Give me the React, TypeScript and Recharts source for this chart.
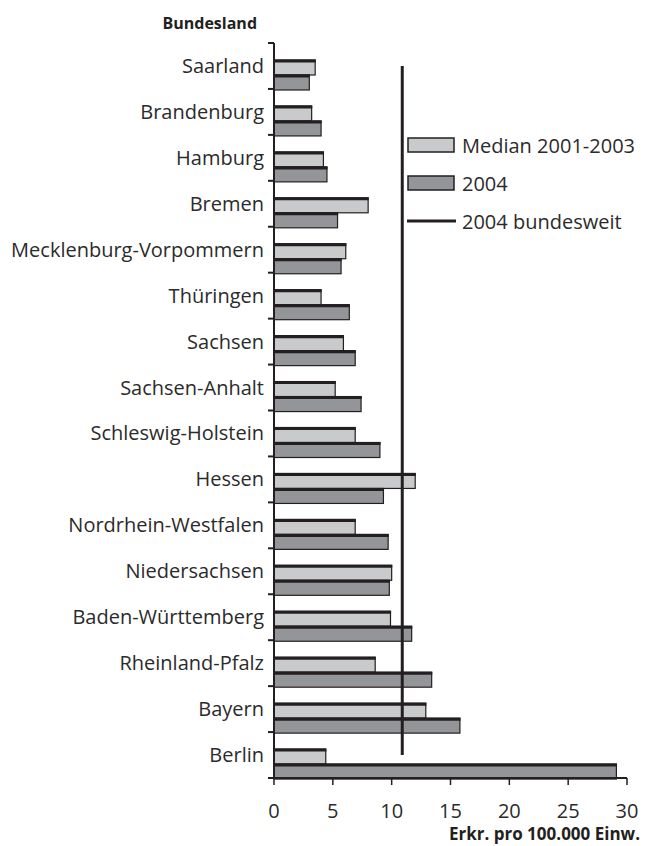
import React from 'react';
import { BarChart, Bar, XAxis, YAxis, ReferenceLine, Legend } from 'recharts';

const states = [
  'Saarland', 'Brandenburg', 'Hamburg', 'Bremen', 'Mecklenburg-Vorpommern', 'Thüringen',
  'Sachsen', 'Sachsen-Anhalt', 'Schleswig-Holstein', 'Hessen', 'Nordrhein-Westfalen',
  'Niedersachsen', 'Baden-Württemberg', 'Rheinland-Pfalz', 'Bayern', 'Berlin',
];
const median0103 = [3.5, 3.2, 4.2, 8.0, 6.1, 4.0, 5.9, 5.2, 6.9, 12.0, 6.9, 10.0, 9.9, 8.6, 12.9, 4.4];
const rate2004 = [3.0, 4.0, 4.5, 5.4, 5.7, 6.4, 6.9, 7.4, 9.0, 9.3, 9.7, 9.8, 11.7, 13.4, 15.8, 29.1];
const bundesweit2004 = 10.9;
const xTicks = [0, 5, 10, 15, 20, 25, 30];
const seriesNames = ['Median 2001-2003', '2004', '2004 bundesweit'];

const data = states.map((s, i) => ({ state: s, median: median0103[i], y2004: rate2004[i] }));

const INK = '#231f20';
const TEXT = '#2b2b2b';
const LIGHT = '#c9cacc';
const DARK = '#939598';
const FONT = '"Open Sans", sans-serif';
const BAR_SHIFT = 9;

const barShape = (fill: string) => (props: any) => {
  const { x, y, width, height } = props;
  const top = y + BAR_SHIFT;
  return (
    <g>
      <rect x={x} y={top} width={width} height={height} fill={fill} stroke={INK} strokeWidth={1.2} />
      <line x1={x} x2={x + width + 0.6} y1={top + 1} y2={top + 1} stroke={INK} strokeWidth={3} />
    </g>
  );
};

const StateTick = (props: any) => {
  const { x, y, payload, index } = props;
  const half = payload.offset ?? 0;
  const axisX = x + 10;
  return (
    <g>
      <text x={x} y={y} dy="0.35em" textAnchor="end" fontFamily={FONT} fontSize={20} fill={TEXT}>
        {payload.value}
      </text>
      <line x1={axisX - 6} x2={axisX} y1={y + half} y2={y + half} stroke={INK} strokeWidth={2} />
      {index === 0 && (
        <line x1={axisX - 6} x2={axisX} y1={y - half} y2={y - half} stroke={INK} strokeWidth={2} />
      )}
    </g>
  );
};

const renderLegend = () => (
  <div style={{ fontFamily: FONT, fontSize: 20, color: TEXT }}>
    {[LIGHT, DARK].map((c, i) => (
      <div key={i} style={{ display: 'flex', alignItems: 'center', height: 38 }}>
        <svg width={55} height={16}>
          <rect x={1} y={1} width={46} height={14} fill={c} stroke={INK} strokeWidth={1.5} />
        </svg>
        <span>{seriesNames[i]}</span>
      </div>
    ))}
    <div style={{ display: 'flex', alignItems: 'center', height: 38 }}>
      <svg width={55} height={16}>
        <line x1={0} x2={49} y1={8} y2={8} stroke={INK} strokeWidth={3} />
      </svg>
      <span>{seriesNames[2]}</span>
    </div>
  </div>
);

export default function App() {
  return (
    <div style={{ position: 'absolute', left: 0, top: 0, width: 652, height: 846, background: '#fff' }}>
      <BarChart
        width={652}
        height={846}
        data={data}
        layout="vertical"
        margin={{ top: 43, right: 25, bottom: 0, left: 0 }}
        barSize={15}
        barGap={0}
      >
        <XAxis
          type="number"
          domain={[0, 30]}
          ticks={xTicks}
          height={68}
          axisLine={{ stroke: INK, strokeWidth: 2 }}
          tickLine={{ stroke: INK, strokeWidth: 1.5 }}
          tickSize={7}
          tickMargin={19}
          tick={{ fontFamily: FONT, fontSize: 20, fill: TEXT }}
          label={{
            content: (p: any) => (
              <text
                x={p.viewBox.x + p.viewBox.width + 13}
                y={p.viewBox.y + 62}
                textAnchor="end"
                fontFamily={FONT}
                fontWeight="bold"
                fontSize={17}
                fill={INK}
              >
                Erkr. pro 100.000 Einw.
              </text>
            ),
          }}
        />
        <YAxis
          type="category"
          dataKey="state"
          width={274}
          axisLine={{ stroke: INK, strokeWidth: 2 }}
          tickLine={false}
          tickSize={0}
          tickMargin={10}
          interval={0}
          tick={<StateTick />}
          label={{
            content: (p: any) => (
              <text
                x={p.viewBox.x + p.viewBox.width - 17}
                y={p.viewBox.y - 14}
                textAnchor="end"
                fontFamily={FONT}
                fontWeight="bold"
                fontSize={16}
                fill={INK}
              >
                Bundesland
              </text>
            ),
          }}
        />
        <Bar dataKey="median" name={seriesNames[0]} fill={LIGHT} shape={barShape(LIGHT)} isAnimationActive={false} />
        <Bar dataKey="y2004" name={seriesNames[1]} fill={DARK} shape={barShape(DARK)} isAnimationActive={false} />
        <ReferenceLine
          segment={[{ x: bundesweit2004, y: states[0] }, { x: bundesweit2004, y: states[states.length - 1] }]}
          stroke={INK}
          strokeWidth={3}
        />
        <Legend
          layout="vertical"
          align="center"
          verticalAlign="middle"
          content={renderLegend}
          wrapperStyle={{ position: 'absolute', left: 407, top: 126, width: 245 }}
        />
      </BarChart>
    </div>
  );
}
